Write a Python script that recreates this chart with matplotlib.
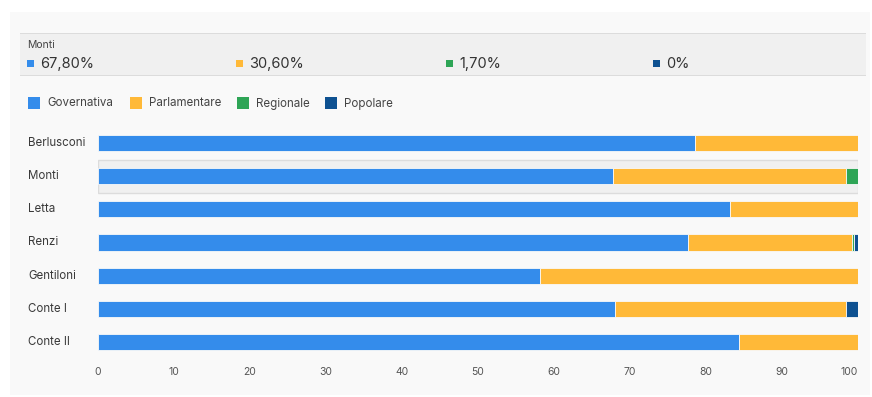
import matplotlib
matplotlib.use("Agg")
from matplotlib import pyplot as plt
from matplotlib.patches import Rectangle

plt.rcParams['font.family'] = ['Inter', 'DejaVu Sans']

leaders = ["Berlusconi", "Monti", "Letta", "Renzi", "Gentiloni", "Conte I", "Conte II"]
series = ["Governativa", "Parlamentare", "Regionale", "Popolare"]
governativa = [78.6, 67.8, 83.2, 77.6, 58.2, 68.0, 84.4]
parlamentare = [21.4, 30.6, 16.8, 21.6, 41.8, 30.4, 15.6]
regionale = [0, 1.7, 0, 0.3, 0, 0, 0]
popolare = [0, 0, 0, 0.5, 0, 1.6, 0]
colors = ["#348ceb", "#ffb938", "#2ea556", "#0e5191"]
highlight = "Monti"
xticks = [0, 10, 20, 30, 40, 50, 60, 70, 80, 90, 100]

W, H = 872, 397
fig = plt.figure(figsize=(W / 100, H / 100), dpi=100)
fig.patch.set_facecolor("white")

def box(x0, y0, w, h, **kw):
    # rectangle in pixel coords from the top-left corner
    fig.patches.append(Rectangle((x0 / W, 1 - (y0 + h) / H), w / W, h / H,
                                 transform=fig.transFigure, **kw))

box(10, 12, 860, 383, facecolor="#f9f9f9", edgecolor="none", zorder=0)
box(20, 33, 846, 43, facecolor="#f0f0f0", edgecolor="none", zorder=1)
box(20, 33, 846, 1, facecolor="#dcdcdc", edgecolor="none", zorder=1)
box(20, 75, 846, 1, facecolor="#dcdcdc", edgecolor="none", zorder=1)

# header with the values of the highlighted row
i_h = leaders.index(highlight)
vals = [governativa[i_h], parlamentare[i_h], regionale[i_h], popolare[i_h]]
fig.text(27 / W, 1 - 44.5 / H, highlight, fontsize=7.5, color="#444444", va="center")
hx = [27, 236, 446, 653]
for x, v, c in zip(hx, vals, colors):
    box(x, 60, 7, 7, facecolor=c, edgecolor="none", zorder=2)
    txt = "0%" if v == 0 else ("%.2f%%" % v).replace(".", ",")
    fig.text((x + 13) / W, 1 - 64 / H, txt, fontsize=10.5, color="#333333", va="center")

# legend
lx = [28, 130, 237, 325]
for x, s, c in zip(lx, series, colors):
    box(x, 97, 12, 12, facecolor=c, edgecolor="none", zorder=2)
    fig.text((x + 19) / W, 1 - 103.5 / H, s, fontsize=8.3, color="#444444", va="center")

ax = fig.add_axes([97.5 / W, 1 - 358.5 / H, (858 - 97.5) / W, (358.5 - 126.5) / H])
ax.set_zorder(5)
ax.set_facecolor("none")
ypos = list(range(len(leaders)))
left = [0] * len(leaders)
for vals_s, c in zip([governativa, parlamentare, regionale, popolare], colors):
    ax.barh(ypos, vals_s, left=left, height=0.49, color=c, edgecolor="#f9f9f9",
            linewidth=0.6, zorder=3)
    left = [a + b for a, b in zip(left, vals_s)]

ax.barh(i_h, 100, height=1.0, color="#f0f0f0", edgecolor="#dcdcdc", linewidth=1, zorder=1)

ax.set_xlim(0, 100)
ax.set_ylim(len(leaders) - 0.5, -0.5)
ax.set_yticks([])
ax.set_xticks(xticks)
ax.set_xticklabels([str(t) for t in xticks], fontsize=7.5, color="#555555")
ax.tick_params(axis="x", length=0, pad=6)
for lab in ax.get_xticklabels():
    if lab.get_text() == "100":
        lab.set_horizontalalignment("right")
        lab.set_x(100)
for sp in ax.spines.values():
    sp.set_visible(False)

for i, name in enumerate(leaders):
    ax.text(-69.5 / 7.605, i, name, fontsize=8.3, color="#3a3a3a", va="center", ha="left")

fig.savefig("out.png", dpi=100, facecolor=fig.get_facecolor())
